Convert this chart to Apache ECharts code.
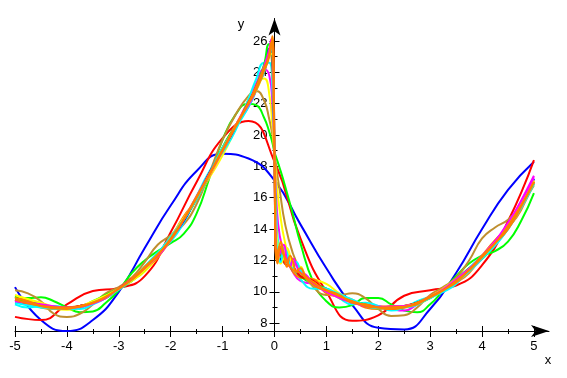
<!DOCTYPE html>
<html lang="en">
  <head>
    <meta charset="UTF-8" />
    <title>partial sums</title>
    <script src="https://cdn.jsdelivr.net/npm/echarts@6/dist/echarts.min.js"></script>
    <style>
      html, body { margin: 0; padding: 0; background: #fff; }
      #chart { width: 567px; height: 378px; }
    </style>
  </head>
  <body>
    <div id="chart"></div>
    <script>
      // x positions
      const xCoarse = [-5, -4.5, -4, -3.5, -3, -2.5, -2, -1.5, -1, -0.5, 0, 0.5, 1, 1.5, 2, 2.5, 3, 3.5, 4, 4.5, 5]
      const xFine = [-5, -4.75, -4.5, -4.25, -4, -3.75, -3.5, -3.25, -3, -2.75, -2.5, -2.25, -2, -1.75, -1.5, -1.25, -1, -0.75,
        -0.5, -0.35, -0.2, -0.1, -0.04, 0, 0.04, 0.1, 0.2, 0.35, 0.5, 0.75, 1, 1.25, 1.5, 1.75, 2, 2.25, 2.5, 2.75, 3, 3.25,
        3.5, 3.75, 4, 4.25, 4.5, 4.75, 5]
      const xNear = [-5, -4.5, -4, -3.5, -3, -2.5, -2, -1.5, -1, -0.7, -0.45, -0.3, -0.2, -0.12, -0.06, -0.02, 0,
        0.02, 0.06, 0.12, 0.18, 0.24, 0.3, 0.36, 0.42, 0.5, 0.6, 0.75, 1, 1.5, 2, 2.5, 3, 3.5, 4, 4.5, 5]

      // tick labels
      const xTicks = [-5, -4, -3, -2, -1, 0, 1, 2, 3, 4, 5]
      const xMinor = [-4.5, -3.5, -2.5, -1.5, -0.5, 0.5, 1.5, 2.5, 3.5, 4.5]
      const yTicks = [8, 10, 12, 14, 16, 18, 20, 22, 24, 26]
      const yMinor = [9, 11, 13, 15, 17, 19, 21, 23, 25]

      // curves
      const curve1 = [10.3, 8.2, 7.5, 8.2, 10.0, 12.8, 15.5, 17.7, 18.8, 18.5, 17.1, 14.3, 11.5, 9.15, 7.7, 7.6, 8.9, 11.2, 14.0, 16.5, 18.3]
      const curve2 = [8.4, 8.2, 9.2, 10.05, 10.25, 11.0, 13.8, 17.0, 19.8, 20.9, 18.3, 13.4, 10.0, 8.15, 8.5, 9.75, 10.1, 10.4, 11.7, 14.5, 18.4]
      const curve3 = [9.6, 9.6, 9.65, 9.4, 9.0, 8.7, 8.75, 9.3, 10.1, 11.2, 12.0, 12.6, 13.1, 13.7, 15.0, 17.3, 19.7, 21.3,
        22.0, 21.9, 21.1, 20.2, 19.5, 18.9, 18.5, 17.9, 16.8, 15.0, 13.1, 10.6, 9.4, 9.0, 9.15, 9.6, 9.6, 9.2, 8.8, 8.7, 9.2, 10.1,
        11.0, 11.8, 12.3, 12.6, 13.2, 14.5, 16.3]
      const curve4 = [10.1, 9.9, 9.4, 8.6, 8.4, 8.6, 9.2, 9.9, 10.3, 10.9, 11.9, 13.0, 13.6, 14.3, 15.6, 17.6, 19.7, 21.3,
        22.5, 22.8, 22.2, 21.0, 20.0, 18.9, 17.8, 16.5, 14.4, 12.5, 11.4, 10.3, 9.8, 9.8, 9.9, 9.6, 8.9, 8.45, 8.5, 9.0, 9.8, 10.3,
        10.9, 12.0, 13.4, 14.1, 14.6, 15.5, 16.8]
      const curve5 = [9.7, 9.5, 9.2, 8.9, 8.85, 9.0, 9.35, 9.75, 10.2, 10.7, 11.3, 12.2, 13.3, 14.6, 15.9, 17.3, 18.7, 20.4,
        22.3, 23.3, 23.6, 22.6, 20.5, 18.7, 17.0, 15.2, 13.2, 11.6, 11.0, 10.8, 10.5, 9.9, 9.4, 9.1, 9.1, 9.05, 9.0, 9.2, 9.6, 10.2,
        10.8, 11.4, 12.1, 13.0, 14.2, 15.5, 16.9]
      const curve6 = [9.4, 9.2, 9.1, 9.05, 8.95, 9.0, 9.25, 9.7, 10.2, 10.75, 11.45, 12.4, 13.5, 14.7, 15.9, 17.4, 19.0, 20.6,
        22.2, 23.3, 24.2, 23.8, 22.0, 18.7, 15.6, 13.6, 12.3, 11.3, 10.7, 10.5, 10.2, 9.8, 9.4, 9.2, 9.1, 8.9, 8.8, 9.2, 9.7, 10.1,
        10.6, 11.3, 12.1, 13.1, 14.3, 15.8, 17.4]
      const curve7 = [9.2, 9.0, 9.1, 9.1, 9.0, 8.9, 9.2, 9.6, 10.15, 10.7, 11.6, 12.5, 13.2, 14.4, 16.1, 17.7, 18.9, 20.3,
        22.3, 23.6, 24.6, 24.6, 23.0, 18.7, 14.6, 12.6, 11.8, 11.6, 10.8, 10.2, 10.2, 9.6, 9.2, 9.3, 9.1, 8.8, 9.0, 9.4, 9.7, 10.0,
        10.5, 11.5, 12.3, 13.0, 14.0, 15.4, 17.2]
      const curve8 = [9.6, 9.4, 9.0, 8.9, 9.0, 9.1, 9.3, 9.6, 10.2, 10.9, 11.5, 12.2, 13.4, 14.8, 15.9, 17.4, 19.2, 20.6,
        21.8, 22.9, 24.4, 25.3, 24.2, 18.7, 13.6, 12.1, 12.2, 11.3, 10.9, 10.8, 9.9, 9.7, 9.5, 9.0, 8.9, 9.1, 9.1, 9.2, 9.7, 10.2,
        10.6, 11.2, 12.3, 13.3, 14.1, 15.2, 17.1]
      const curve9 = [9.5, 9.3, 9.2, 9.0, 8.9, 9.1, 9.3, 9.7, 10.2, 10.8, 11.5, 12.4, 13.4, 14.5, 16.0, 17.6, 19.1, 20.5,
        22.0, 23.1, 24.3, 25.5, 25.0, 18.7, 13.0, 12.0, 12.4, 11.4, 11.2, 10.5, 10.1, 9.7, 9.4, 9.15, 9.0, 8.95, 9.05, 9.3, 9.65, 10.1,
        10.7, 11.4, 12.2, 13.1, 14.2, 15.6, 17.2]
      const curve10 = [9.7, 9.3, 9.2, 9.0, 8.9, 9.0, 9.4, 9.8, 10.2, 10.7, 11.4, 12.4, 13.5, 14.6, 15.9, 17.5, 19.2, 20.6,
        21.9, 23.1, 24.5, 25.8, 25.6, 18.7, 12.6, 12.4, 12.0, 11.6, 11.0, 10.5, 10.2, 9.6, 9.4, 9.2, 8.95, 9.0, 9.1, 9.3, 9.6, 10.1,
        10.8, 11.5, 12.1, 13.0, 14.2, 15.5, 16.9]
      const curve11 = [9.3, 9.3, 9.1, 9.0, 9.0, 9.1, 9.3, 9.7, 10.2, 10.8, 11.5, 12.3, 13.4, 14.6, 16.0, 17.6, 19.0, 20.5,
        22.1, 23.0, 24.0, 25.4, 26.0, 18.7, 12.2, 12.8, 11.8, 11.6, 11.0, 10.7, 10.0, 9.7, 9.4, 9.1, 9.0, 8.9, 9.1, 9.3, 9.7, 10.1,
        10.7, 11.4, 12.2, 13.2, 14.2, 15.4, 17.0]
      const curve12 = [9.8, 9.3, 8.9, 9.4, 10.2, 11.4, 13.5, 16.0, 19.0, 20.9, 22.2, 23.2, 24.2, 25.0, 25.2, 23.0, 18.7,
        15.0, 13.0, 11.8, 12.2, 12.8, 12.3, 11.4, 11.3, 11.6, 11.0, 10.6, 10.0, 9.35, 9.0, 9.1, 9.7, 10.8, 12.2, 14.3, 17.1]
      const curve13 = [9.3, 9.0, 8.9, 9.3, 10.15, 11.6, 13.5, 15.9, 19.2, 20.7, 22.1, 23.3, 24.0, 25.0, 25.4, 23.8, 18.7,
        14.5, 12.4, 11.9, 12.8, 12.5, 11.7, 11.5, 11.9, 11.4, 10.9, 10.4, 10.2, 9.5, 8.95, 9.0, 9.6, 10.6, 12.1, 14.0, 16.9]
      const curve14 = [9.4, 9.2, 9.0, 9.25, 10.2, 11.5, 13.3, 16.1, 19.0, 20.9, 22.2, 23.4, 24.4, 25.2, 26.1, 23.5, 18.7,
        14.0, 12.1, 12.6, 13.0, 12.0, 11.6, 12.1, 11.7, 11.2, 11.1, 10.5, 10.0, 9.3, 9.05, 9.1, 9.7, 10.8, 12.3, 14.4, 17.3]
      const curve15 = [9.5, 9.1, 9.0, 9.3, 10.2, 11.5, 13.4, 16.0, 19.1, 20.8, 22.4, 23.5, 24.3, 24.9, 25.9, 24.0, 18.7,
        13.5, 11.8, 13.2, 12.4, 11.6, 12.3, 11.9, 11.3, 11.5, 11.0, 10.6, 10.1, 9.4, 9.0, 9.05, 9.65, 10.7, 12.2, 14.2, 17.0]
      const curve16 = [9.6, 9.4, 9.1, 8.95, 8.9, 9.1, 9.3, 9.7, 10.2, 10.8, 11.6, 12.4, 13.3, 14.6, 16.1, 17.5, 19.0, 20.6,
        22.0, 22.9, 24.1, 25.0, 26.3, 18.7, 12.0, 12.9, 12.2, 11.4, 11.2, 10.4, 10.1, 9.8, 9.3, 9.2, 9.0, 8.9, 9.0, 9.3, 9.7, 10.1,
        10.6, 11.4, 12.3, 13.1, 14.0, 15.4, 17.0]

      const pairs = (xs, ys) => xs.map((x, i) => [x, ys[i]])

      const lines = [
        [xCoarse, curve1, '#0000ff'],
        [xCoarse, curve2, '#ff0000'],
        [xFine, curve3, '#00ff00'],
        [xFine, curve4, '#bf8f2f'],
        [xFine, curve5, '#ffff00'],
        [xFine, curve6, '#ff00ff'],
        [xFine, curve7, '#00ffff'],
        [xFine, curve8, '#ff8000'],
        [xFine, curve9, '#0000ff'],
        [xFine, curve10, '#00ff00'],
        [xFine, curve11, '#ff0000'],
        [xNear, curve12, '#ffff00'],
        [xNear, curve13, '#00ffff'],
        [xNear, curve14, '#ff00ff'],
        [xNear, curve15, '#ff8000'],
        [xFine, curve16, '#ff8000']
      ]

      const font = { fontFamily: 'Liberation Sans', fontSize: 13, color: '#000' }
      const black = { color: '#000', width: 1 }
      const X_MIN = -5, X_MAX = 5.29, Y_MIN = 7.5, Y_MAX = 27.43
      // the y axis sits on x = 0, 5 units right of the grid's left edge
      const Y_SHIFT = -5 * 51.9

      const xExtra = (vals, len, inside) => ({
        type: 'value', min: X_MIN, max: X_MAX, position: 'bottom',
        axisLine: { show: false, onZero: false }, splitLine: { show: false }, axisLabel: { show: false },
        axisTick: { show: true, customValues: vals, length: len, inside: inside, lineStyle: black }
      })
      const yExtra = (vals, len, inside) => ({
        type: 'value', min: Y_MIN, max: Y_MAX, position: 'left', offset: Y_SHIFT,
        axisLine: { show: false, onZero: false }, splitLine: { show: false }, axisLabel: { show: false },
        axisTick: { show: true, customValues: vals, length: len, inside: inside, lineStyle: black }
      })

      const chart = echarts.init(document.getElementById('chart'))
      chart.setOption({
        animation: false,
        backgroundColor: '#fff',
        grid: { left: 15, right: 18, top: 18.5, bottom: 47, containLabel: false, outerBoundsMode: 'none' },
        xAxis: [
          {
            type: 'value', min: X_MIN, max: X_MAX, position: 'bottom',
            axisLine: { show: true, onZero: false, symbol: ['none', 'arrow'], symbolSize: [9, 18], lineStyle: black },
            axisTick: { show: true, customValues: xTicks, length: 6, lineStyle: black },
            axisLabel: Object.assign({ customValues: xTicks, margin: 9 }, font),
            splitLine: { show: false }
          },
          xExtra(xTicks, 5, true),
          xExtra(xMinor, 3, false),
          xExtra(xMinor, 2, true)
        ],
        yAxis: [
          {
            type: 'value', min: Y_MIN, max: Y_MAX, position: 'left', offset: Y_SHIFT,
            axisLine: { show: true, onZero: false, symbol: ['none', 'arrow'], symbolSize: [9, 17], lineStyle: black },
            axisTick: { show: true, customValues: yTicks, length: 5, lineStyle: black },
            axisLabel: Object.assign({ customValues: yTicks, margin: 7 }, font),
            splitLine: { show: false }
          },
          yExtra(yTicks, 5, true),
          yExtra(yMinor, 3, true),
          yExtra(yMinor, 2, false)
        ],
        graphic: [
          { type: 'text', x: 241, y: 24, style: { text: 'y', font: '13px "Liberation Sans"', fill: '#000', align: 'center', verticalAlign: 'middle' } },
          { type: 'text', x: 548, y: 360, style: { text: 'x', font: '13px "Liberation Sans"', fill: '#000', align: 'center', verticalAlign: 'middle' } }
        ],
        series: lines.map(([xs, ys, color]) => ({
          type: 'line',
          data: pairs(xs, ys),
          smooth: 0.5,
          showSymbol: false,
          lineStyle: { color: color, width: 2 },
          itemStyle: { color: color }
        }))
      })
    </script>
  </body>
</html>
